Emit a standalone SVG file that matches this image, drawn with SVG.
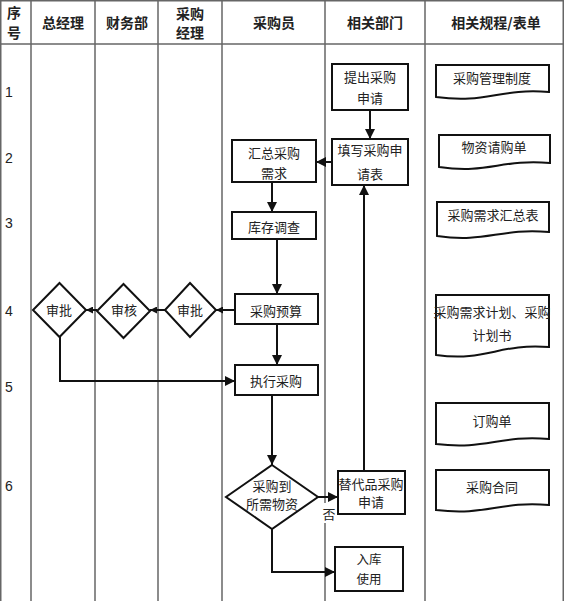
<svg xmlns="http://www.w3.org/2000/svg" width="564" height="601" viewBox="0 0 564 601">
<style>
text{font-family:"Noto Sans CJK SC","Liberation Sans",sans-serif;font-size:13px;fill:#222;text-anchor:middle;dominant-baseline:central}
.h{font-weight:bold;font-size:14px}
.n{font-family:"Liberation Sans",sans-serif;font-size:14px}
.grid{stroke:#666;stroke-width:1.5;fill:none}
.box{fill:#fff;stroke:#111;stroke-width:2}
.doc{fill:#fff;stroke:#111;stroke-width:2}
.c{fill:none;stroke:#111;stroke-width:2}
</style>
<defs>
<marker id="a" viewBox="0 0 10 10" refX="10" refY="5" markerWidth="5" markerHeight="5" orient="auto" markerUnits="strokeWidth"><path d="M0,0 L10,5 L0,10 Z" fill="#111"/></marker>
<marker id="s" viewBox="0 0 10 10" refX="10" refY="5" markerWidth="3.5" markerHeight="3.5" orient="auto" markerUnits="strokeWidth"><path d="M0,0 L10,5 L0,10 Z" fill="#111"/></marker>
</defs>
<rect x="0" y="0" width="564" height="601" fill="#fff"/>
<g id="grid">
<rect class="grid" x="0.75" y="0.75" width="562.5" height="602"/>
<line class="grid" x1="0" y1="44" x2="564" y2="44"/>
<line class="grid" x1="31" y1="0" x2="31" y2="601"/>
<line class="grid" x1="95" y1="0" x2="95" y2="601"/>
<line class="grid" x1="158" y1="0" x2="158" y2="601"/>
<line class="grid" x1="222" y1="0" x2="222" y2="601"/>
<line class="grid" x1="325" y1="0" x2="325" y2="601"/>
<line class="grid" x1="425" y1="0" x2="425" y2="601"/>
</g>
<g id="header">
<text class="h" x="14" y="12">序</text>
<text class="h" x="14" y="32">号</text>
<text class="h" x="63" y="22">总经理</text>
<text class="h" x="127" y="22">财务部</text>
<text class="h" x="190" y="13">采购</text>
<text class="h" x="190" y="32">经理</text>
<text class="h" x="274" y="22">采购员</text>
<text class="h" x="375" y="22">相关部门</text>
<text class="h" x="496" y="22">相关规程/表单</text>
</g>
<g id="rows">
<text class="n" x="9" y="92">1</text>
<text class="n" x="9" y="158">2</text>
<text class="n" x="9" y="223">3</text>
<text class="n" x="9" y="311">4</text>
<text class="n" x="9" y="387">5</text>
<text class="n" x="9" y="486">6</text>
</g>
<g id="connectors">
<line class="c" x1="370" y1="110" x2="370" y2="139" marker-end="url(#a)"/>
<line class="c" x1="332" y1="162" x2="316" y2="162" marker-end="url(#a)"/>
<line class="c" x1="272" y1="182" x2="272" y2="212" marker-end="url(#a)"/>
<line class="c" x1="277" y1="239" x2="277" y2="294" marker-end="url(#a)"/>
<line class="c" x1="235" y1="310" x2="216" y2="310" marker-end="url(#s)"/>
<line class="c" x1="165" y1="310" x2="150" y2="310" marker-end="url(#s)"/>
<line class="c" x1="97" y1="310" x2="86" y2="310" marker-end="url(#s)"/>
<polyline class="c" points="60,337 60,381 235,381" marker-end="url(#a)"/>
<line class="c" x1="277" y1="324" x2="277" y2="365" marker-end="url(#a)"/>
<line class="c" x1="272" y1="395" x2="272" y2="465" marker-end="url(#a)"/>
<line class="c" x1="318" y1="497" x2="338" y2="497" marker-end="url(#a)"/>
<line class="c" x1="364" y1="471" x2="364" y2="185" marker-end="url(#a)"/>
<polyline class="c" points="272,529 272,572 335,572" marker-end="url(#a)"/>
<rect x="321" y="503" width="16" height="20" fill="#fff"/>
<text x="329" y="513">否</text>
</g>
<g id="n-tichu"><rect class="box" x="332" y="64" width="76" height="46"/><text x="370" y="76">提出采购</text><text x="370" y="97">申请</text></g>
<g id="n-tianxie"><rect class="box" x="332" y="139" width="76" height="46"/><text x="370" y="149">填写采购申</text><text x="370" y="173">请表</text></g>
<g id="n-huizong"><rect class="box" x="232" y="140" width="84" height="42"/><text x="274" y="152">汇总采购</text><text x="274" y="172">需求</text></g>
<g id="n-kucun"><rect class="box" x="232" y="212" width="84" height="27"/><text x="274" y="226">库存调查</text></g>
<g id="n-yusuan"><rect class="box" x="235" y="294" width="83" height="30"/><text x="276" y="310">采购预算</text></g>
<g id="n-zhixing"><rect class="box" x="235" y="365" width="83" height="30"/><text x="276" y="380">执行采购</text></g>
<g id="n-shenpi2"><polygon class="box" points="190,283 216,310 190,337 165,310"/><text x="190" y="309">审批</text></g>
<g id="n-shenhe"><polygon class="box" points="123.5,284 150,311 123.5,338 97,311"/><text x="124" y="309">审核</text></g>
<g id="n-shenpi1"><polygon class="box" points="59.5,283 86,310 59.5,337 33,310"/><text x="59" y="309">审批</text></g>
<g id="n-decision"><polygon class="box" points="272,465 318,497 272,529 226,497"/><text x="272" y="485">采购到</text><text x="272" y="503">所需物资</text></g>
<g id="n-tidai"><rect class="box" x="338" y="471" width="67" height="43"/><text x="371" y="483">替代品采购</text><text x="371" y="501">申请</text></g>
<g id="n-ruku"><rect class="box" x="335" y="547" width="68" height="44"/><text x="369" y="558" style="font-size:12.5px">入库</text><text x="369" y="578" style="font-size:12.5px">使用</text></g>
<g id="d1"><path class="doc" d="M436,65 H549 V92 C498,88 487,104 436,97 Z"/><text x="492" y="77">采购管理制度</text></g>
<g id="d2"><path class="doc" d="M439,135 H550 V163 C500,159 489,174 439,167 Z"/><text x="494" y="146">物资请购单</text></g>
<g id="d3"><path class="doc" d="M437,202 H549 V232 C498,228 487,243 437,236 Z"/><text x="493" y="214">采购需求汇总表</text></g>
<g id="d4"><path class="doc" d="M436,295 H549 V347 C498,343 487,362 436,355 Z"/><text x="492" y="311">采购需求计划、采购</text><text x="492" y="334">计划书</text></g>
<g id="d5"><path class="doc" d="M436,403 H549 V439 C498,435 487,450 436,444 Z"/><text x="492" y="420">订购单</text></g>
<g id="d6"><path class="doc" d="M436,470 H549 V505 C498,501 487,516 436,510 Z"/><text x="492" y="486">采购合同</text></g>
</svg>
